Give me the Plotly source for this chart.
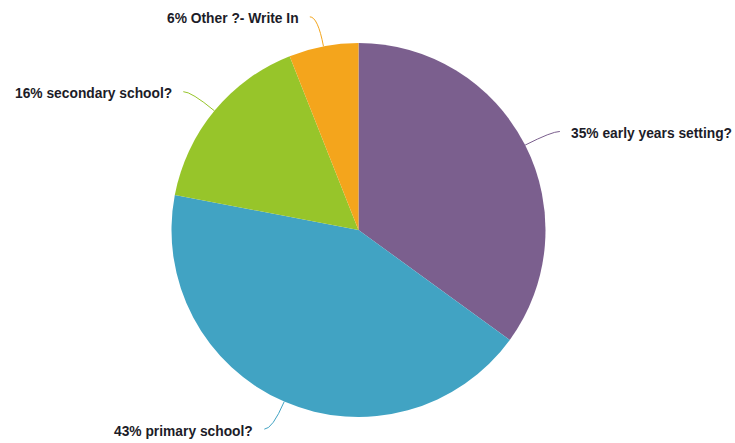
import math
import plotly.graph_objects as go

labels = ["early years setting?", "primary school?", "secondary school?", "Other ?- Write In"]
values = [35, 43, 16, 6]
colors = ["#7B5F8E", "#41A3C3", "#97C52A", "#F4A51C"]

W, H = 735, 443
CX, CY, R = 358.5, 230.0, 187.0   # pixel centre / radius of the pie
L1, L2, GAP = 30.0, 8.0, 11.0     # connector geometry

fig = go.Figure(go.Pie(
    labels=labels, values=values, sort=False, direction="clockwise", rotation=0,
    marker=dict(colors=colors, line=dict(width=0)),
    textinfo="none", hoverinfo="label+percent", showlegend=False,
    domain=dict(x=[(CX - R) / W, (CX + R) / W], y=[(H - CY - R) / H, (H - CY + R) / H]),
))

def px(x, y):
    return x / W, 1 - y / H

total = sum(values)
cum = 0
shapes, annos = [], []
for lab, v, c in zip(labels, values, colors):
    mid = (cum + v / 2) / total * 2 * math.pi
    cum += v
    dx, dy = math.sin(mid), -math.cos(mid)
    sx, sy = CX + R * dx, CY + R * dy
    qx, qy = CX + (R + L1) * dx, CY + (R + L1) * dy
    side = 1 if dx > 0 else -1
    ex, ey = qx + side * L2, qy
    p = [px(sx, sy), px(qx, qy), px(ex, ey)]
    shapes.append(dict(type="path", xref="paper", yref="paper",
                       path=f"M {p[0][0]},{p[0][1]} Q {p[1][0]},{p[1][1]} {p[2][0]},{p[2][1]}",
                       line=dict(color=c, width=1)))
    tx, ty = px(ex + side * GAP, ey + 2)
    pct = round(v / total * 100)
    annos.append(dict(x=tx, y=ty, xref="paper", yref="paper", showarrow=False,
                      text=f"<b>{pct}% {lab}</b>", xanchor="left" if side > 0 else "right",
                      yanchor="middle", borderpad=0, borderwidth=0,
                      font=dict(family="Liberation Sans, Arial", size=13.8, color="#1c1c28")))

fig.update_layout(width=W, height=H, margin=dict(l=0, r=0, t=0, b=0),
                  paper_bgcolor="white", plot_bgcolor="white",
                  shapes=shapes, annotations=annos)
fig.write_html("out.html", config={"displayModeBar": False},
               post_script="document.body.style.margin='0';document.body.style.overflow='hidden';")
